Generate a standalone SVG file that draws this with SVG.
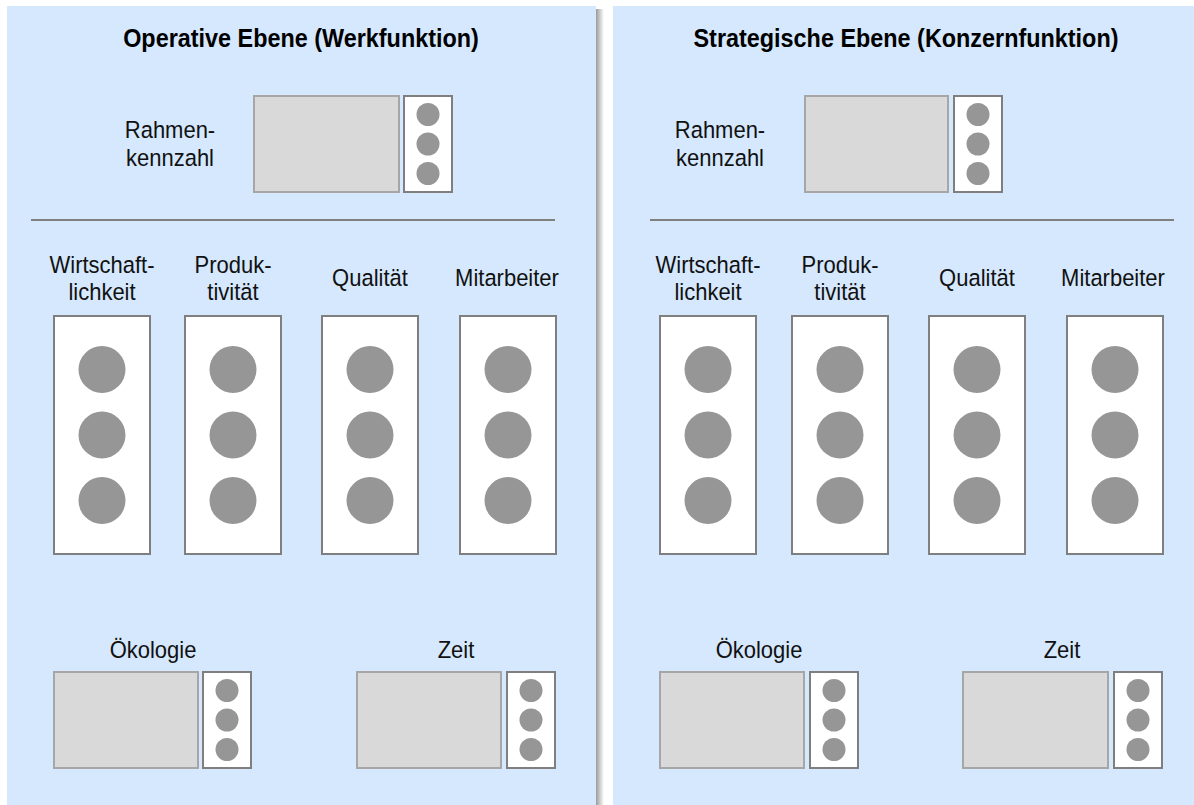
<svg xmlns="http://www.w3.org/2000/svg" width="1194" height="805" viewBox="0 0 1194 805">
  <defs>
    <style>
      .panel { fill: #d5e8fd; }
      .title { font-family: "Liberation Sans", Arial, sans-serif; font-weight: bold; font-size: 23.4px; fill: #000; text-anchor: middle; }
      .lbl { font-family: "Liberation Sans", Arial, sans-serif; font-size: 22px; fill: #111; text-anchor: middle; }
      .sep { stroke: #808080; stroke-width: 2; }
      .field { fill: #d9d9d9; stroke: #a6a6a6; stroke-width: 2; }
      .lamp { fill: #ffffff; stroke: #7f7f7f; stroke-width: 2; }
      .dot { fill: #969696; }
    </style>
    <linearGradient id="edgeShade" x1="0" y1="0" x2="1" y2="0">
      <stop offset="0" stop-color="#9a9a9a"/>
      <stop offset="0.45" stop-color="#c8c8c8"/>
      <stop offset="1" stop-color="#ffffff"/>
    </linearGradient>
    <!-- small status indicator: white frame with three lights -->
    <g id="smallLamp">
      <rect class="lamp" x="0" y="0" width="48" height="96"/>
      <circle class="dot" cx="24" cy="18.5" r="11.5"/>
      <circle class="dot" cx="24" cy="48" r="11.5"/>
      <circle class="dot" cx="24" cy="77.5" r="11.5"/>
    </g>
    <!-- large status column: white frame with three lights -->
    <g id="bigLamp">
      <rect class="lamp" x="0" y="0" width="96" height="238"/>
      <circle class="dot" cx="48" cy="53.5" r="23.5"/>
      <circle class="dot" cx="48" cy="119" r="23.5"/>
      <circle class="dot" cx="48" cy="184.5" r="23.5"/>
    </g>
  </defs>

  <rect x="0" y="0" width="1194" height="805" fill="#ffffff"/>

  <!-- panel backgrounds -->
  <rect x="596" y="9" width="8" height="796" fill="url(#edgeShade)"/>
  <rect class="panel" x="7" y="6" width="589" height="799"/>
  <rect class="panel" x="613" y="6" width="581" height="799"/>

  <!-- left panel: operative level -->
  <g id="operative">
    <text class="title" transform="translate(301 47) scale(1 1.08)">Operative Ebene (Werkfunktion)</text>
    <g id="op-rahmen">
      <text class="lbl" transform="translate(170 138) scale(1 1.08)">Rahmen-</text>
      <text class="lbl" transform="translate(170 166) scale(1 1.08)">kennzahl</text>
      <rect class="field" x="254" y="96" width="145" height="96"/>
      <use href="#smallLamp" x="404" y="96"/>
    </g>
    <line class="sep" x1="31" y1="220" x2="555" y2="220"/>
    <g id="op-wirtschaft">
      <text class="lbl" transform="translate(102 273) scale(1 1.08)">Wirtschaft-</text>
      <text class="lbl" transform="translate(102 300) scale(1 1.08)">lichkeit</text>
      <use href="#bigLamp" x="54" y="316"/>
    </g>
    <g id="op-produkt">
      <text class="lbl" transform="translate(233 273) scale(1 1.08)">Produk-</text>
      <text class="lbl" transform="translate(233 300) scale(1 1.08)">tivität</text>
      <use href="#bigLamp" x="185" y="316"/>
    </g>
    <g id="op-qualitaet">
      <text class="lbl" transform="translate(370 286) scale(1 1.08)">Qualität</text>
      <use href="#bigLamp" x="322" y="316"/>
    </g>
    <g id="op-mitarbeiter">
      <text class="lbl" transform="translate(507 286) scale(1 1.08)">Mitarbeiter</text>
      <use href="#bigLamp" x="460" y="316"/>
    </g>
    <g id="op-oekologie">
      <text class="lbl" transform="translate(153 658) scale(1 1.08)">Ökologie</text>
      <rect class="field" x="54" y="672" width="144" height="96"/>
      <use href="#smallLamp" x="203" y="672"/>
    </g>
    <g id="op-zeit">
      <text class="lbl" transform="translate(456 658) scale(1 1.08)">Zeit</text>
      <rect class="field" x="357" y="672" width="144" height="96"/>
      <use href="#smallLamp" x="507" y="672"/>
    </g>
  </g>

  <!-- right panel: strategic level -->
  <g id="strategic">
    <text class="title" transform="translate(906 47) scale(1 1.08)">Strategische Ebene (Konzernfunktion)</text>
    <g id="st-rahmen">
      <text class="lbl" transform="translate(720 138) scale(1 1.08)">Rahmen-</text>
      <text class="lbl" transform="translate(720 166) scale(1 1.08)">kennzahl</text>
      <rect class="field" x="805" y="96" width="143" height="96"/>
      <use href="#smallLamp" x="954" y="96"/>
    </g>
    <line class="sep" x1="650" y1="220" x2="1174" y2="220"/>
    <g id="st-wirtschaft">
      <text class="lbl" transform="translate(708 273) scale(1 1.08)">Wirtschaft-</text>
      <text class="lbl" transform="translate(708 300) scale(1 1.08)">lichkeit</text>
      <use href="#bigLamp" x="660" y="316"/>
    </g>
    <g id="st-produkt">
      <text class="lbl" transform="translate(840 273) scale(1 1.08)">Produk-</text>
      <text class="lbl" transform="translate(840 300) scale(1 1.08)">tivität</text>
      <use href="#bigLamp" x="792" y="316"/>
    </g>
    <g id="st-qualitaet">
      <text class="lbl" transform="translate(977 286) scale(1 1.08)">Qualität</text>
      <use href="#bigLamp" x="929" y="316"/>
    </g>
    <g id="st-mitarbeiter">
      <text class="lbl" transform="translate(1113 286) scale(1 1.08)">Mitarbeiter</text>
      <use href="#bigLamp" x="1067" y="316"/>
    </g>
    <g id="st-oekologie">
      <text class="lbl" transform="translate(759 658) scale(1 1.08)">Ökologie</text>
      <rect class="field" x="660" y="672" width="144" height="96"/>
      <use href="#smallLamp" x="810" y="672"/>
    </g>
    <g id="st-zeit">
      <text class="lbl" transform="translate(1062 658) scale(1 1.08)">Zeit</text>
      <rect class="field" x="963" y="672" width="145" height="96"/>
      <use href="#smallLamp" x="1114" y="672"/>
    </g>
  </g>
</svg>
